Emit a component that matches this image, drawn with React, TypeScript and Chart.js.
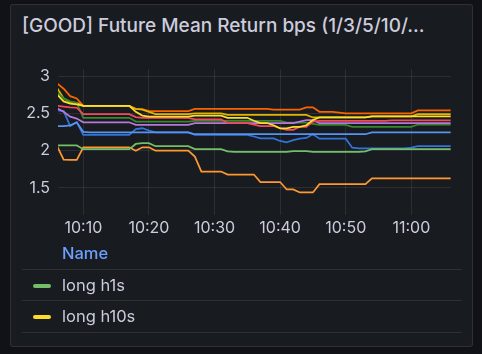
import React, { useEffect, useRef } from "react";
import { Chart, registerables } from "chart.js";
Chart.register(...registerables);

// minutes after 10:00
const minutes = [6, 7, 8, 9, 10, 11, 12, 13, 14, 15, 16, 17, 18, 19, 20, 21, 22, 23, 24, 25, 26, 27, 28, 29, 30, 31, 32, 33, 34, 35, 36, 37, 38, 39, 40, 41, 42, 43, 44, 45, 46, 47, 48, 49, 50, 51, 52, 53, 54, 55, 56, 57, 58, 59, 60, 61, 62, 63, 64, 65, 66];

const xTickValues = [10, 20, 30, 40, 50, 60];
const xTickLabels = ["10:10", "10:20", "10:30", "10:40", "10:50", "11:00"];
const yTickValues = [1.5, 2, 2.5, 3];

const longH1s = [2.07, 2.07, 2.07, 2.07, 2.02, 2.02, 2.02, 2.02, 2.02, 2.02, 2.02, 2.02, 2.09, 2.10, 2.10, 2.06, 2.06, 2.06, 2.06, 2.06, 2.06, 2.02, 2.02, 2.02, 2.02, 2.02, 1.99, 1.985, 1.985, 1.985, 1.985, 1.985, 1.985, 1.985, 1.985, 1.985, 1.995, 1.995, 1.995, 1.985, 1.985, 1.985, 1.985, 1.985, 1.985, 1.985, 1.985, 1.99, 2.02, 2.02, 2.02, 2.02, 2.02, 2.02, 2.02, 2.02, 2.02, 2.02, 2.02, 2.02, 2.02];
const longH10s = [2.75, 2.66, 2.63, 2.62, 2.60, 2.60, 2.60, 2.60, 2.60, 2.60, 2.60, 2.60, 2.52, 2.47, 2.455, 2.455, 2.455, 2.455, 2.455, 2.455, 2.455, 2.47, 2.47, 2.47, 2.47, 2.47, 2.44, 2.44, 2.44, 2.44, 2.40, 2.37, 2.37, 2.34, 2.30, 2.30, 2.32, 2.32, 2.34, 2.41, 2.445, 2.445, 2.445, 2.445, 2.445, 2.445, 2.445, 2.445, 2.46, 2.46, 2.46, 2.46, 2.46, 2.46, 2.46, 2.46, 2.46, 2.46, 2.46, 2.46, 2.46];
const longH3s = [2.33, 2.33, 2.34, 2.38, 2.25, 2.245, 2.245, 2.245, 2.245, 2.245, 2.245, 2.245, 2.245, 2.245, 2.245, 2.245, 2.245, 2.245, 2.245, 2.245, 2.245, 2.22, 2.22, 2.22, 2.22, 2.22, 2.22, 2.22, 2.22, 2.22, 2.22, 2.22, 2.22, 2.22, 2.22, 2.22, 2.22, 2.22, 2.22, 2.22, 2.22, 2.22, 2.22, 2.22, 2.22, 2.22, 2.22, 2.22, 2.245, 2.245, 2.245, 2.245, 2.245, 2.245, 2.245, 2.245, 2.245, 2.245, 2.245, 2.245, 2.245];
const longH5s = [2.06, 1.88, 1.875, 1.875, 2.045, 2.045, 2.045, 2.045, 2.045, 2.045, 2.045, 2.045, 2.00, 2.045, 2.045, 2.00, 2.00, 2.00, 2.00, 2.00, 2.00, 1.92, 1.72, 1.72, 1.72, 1.72, 1.68, 1.68, 1.68, 1.68, 1.68, 1.58, 1.58, 1.58, 1.58, 1.48, 1.48, 1.44, 1.44, 1.44, 1.55, 1.55, 1.55, 1.55, 1.55, 1.55, 1.55, 1.55, 1.63, 1.63, 1.63, 1.63, 1.63, 1.63, 1.63, 1.63, 1.63, 1.63, 1.63, 1.63, 1.63];
const longH30s = [2.60, 2.59, 2.58, 2.575, 2.49, 2.49, 2.49, 2.49, 2.49, 2.49, 2.49, 2.49, 2.45, 2.44, 2.44, 2.44, 2.44, 2.44, 2.44, 2.44, 2.44, 2.42, 2.42, 2.42, 2.42, 2.42, 2.37, 2.37, 2.37, 2.37, 2.35, 2.33, 2.33, 2.33, 2.30, 2.28, 2.28, 2.32, 2.32, 2.39, 2.40, 2.40, 2.40, 2.40, 2.40, 2.40, 2.40, 2.40, 2.40, 2.40, 2.40, 2.405, 2.405, 2.405, 2.405, 2.405, 2.405, 2.405, 2.405, 2.405, 2.405];
const longH60s = [2.57, 2.52, 2.455, 2.43, 2.38, 2.38, 2.38, 2.38, 2.38, 2.38, 2.38, 2.38, 2.345, 2.345, 2.345, 2.345, 2.345, 2.345, 2.345, 2.345, 2.345, 2.37, 2.37, 2.37, 2.37, 2.37, 2.37, 2.37, 2.37, 2.37, 2.37, 2.37, 2.37, 2.37, 2.37, 2.37, 2.37, 2.39, 2.41, 2.41, 2.37, 2.37, 2.37, 2.37, 2.37, 2.37, 2.37, 2.37, 2.37, 2.37, 2.37, 2.37, 2.37, 2.37, 2.37, 2.37, 2.37, 2.37, 2.37, 2.37, 2.37];
const shortH1s = [2.78, 2.70, 2.66, 2.64, 2.44, 2.44, 2.44, 2.44, 2.44, 2.44, 2.44, 2.44, 2.39, 2.39, 2.39, 2.39, 2.39, 2.39, 2.39, 2.39, 2.39, 2.40, 2.40, 2.40, 2.40, 2.40, 2.40, 2.40, 2.40, 2.40, 2.40, 2.40, 2.40, 2.40, 2.40, 2.375, 2.375, 2.375, 2.375, 2.36, 2.345, 2.345, 2.345, 2.345, 2.345, 2.32, 2.32, 2.32, 2.32, 2.32, 2.32, 2.32, 2.32, 2.32, 2.32, 2.35, 2.35, 2.35, 2.35, 2.35, 2.35];
const shortH10s = [2.84, 2.70, 2.65, 2.64, 2.60, 2.60, 2.60, 2.60, 2.60, 2.60, 2.60, 2.60, 2.56, 2.55, 2.52, 2.49, 2.49, 2.49, 2.49, 2.49, 2.49, 2.50, 2.50, 2.50, 2.50, 2.50, 2.48, 2.48, 2.48, 2.48, 2.48, 2.48, 2.48, 2.48, 2.48, 2.48, 2.48, 2.48, 2.48, 2.445, 2.445, 2.445, 2.445, 2.445, 2.445, 2.445, 2.445, 2.445, 2.46, 2.46, 2.46, 2.46, 2.46, 2.46, 2.46, 2.49, 2.49, 2.49, 2.49, 2.49, 2.49];
const shortH3s = [2.54, 2.53, 2.33, 2.38, 2.21, 2.21, 2.21, 2.21, 2.21, 2.21, 2.21, 2.21, 2.29, 2.30, 2.27, 2.245, 2.245, 2.245, 2.245, 2.245, 2.245, 2.21, 2.21, 2.21, 2.21, 2.21, 2.21, 2.21, 2.21, 2.21, 2.19, 2.165, 2.165, 2.165, 2.13, 2.11, 2.14, 2.16, 2.17, 2.22, 2.16, 2.16, 2.16, 2.16, 2.16, 2.04, 2.03, 2.03, 2.03, 2.03, 2.03, 2.03, 2.03, 2.03, 2.04, 2.06, 2.06, 2.06, 2.06, 2.06, 2.06];
const shortH5s = [2.90, 2.83, 2.73, 2.70, 2.60, 2.60, 2.60, 2.60, 2.60, 2.60, 2.60, 2.60, 2.555, 2.555, 2.53, 2.53, 2.53, 2.53, 2.53, 2.53, 2.53, 2.56, 2.56, 2.56, 2.56, 2.56, 2.56, 2.56, 2.56, 2.56, 2.56, 2.56, 2.56, 2.55, 2.55, 2.55, 2.55, 2.55, 2.58, 2.58, 2.52, 2.52, 2.52, 2.51, 2.50, 2.50, 2.50, 2.50, 2.50, 2.50, 2.50, 2.50, 2.50, 2.50, 2.50, 2.54, 2.54, 2.54, 2.54, 2.54, 2.54];

const seriesNames = ["long h1s", "long h10s", "long h3s", "long h5s", "long h30s", "long h60s", "short h1s", "short h10s", "short h3s", "short h5s"];
const seriesValues = [longH1s, longH10s, longH3s, longH5s, longH30s, longH60s, shortH1s, shortH10s, shortH3s, shortH5s];
const seriesColors = ["#73BF69", "#FADE2A", "#5794F2", "#FF9830", "#F2495C", "#B877D9", "#37872D", "#E0B400", "#3274D9", "#FA6400"];
const legendShown = [0, 1];

const TEXT = "#ccccdc";
const GRID = "rgba(240,250,255,0.09)";

export default function App() {
  const ref = useRef<HTMLCanvasElement>(null);
  useEffect(() => {
    document.body.style.margin = "0";
    document.body.style.background = "#111217";
    const ctx = ref.current!;
    const chart = new Chart(ctx, {
      type: "line",
      data: {
        datasets: seriesNames.map((n, i) => ({
          label: n,
          data: minutes.map((m, j) => ({ x: m, y: seriesValues[i][j] })),
          borderColor: seriesColors[i],
          backgroundColor: seriesColors[i],
          borderWidth: 1.75,
          pointRadius: 0,
          tension: 0,
        })),
      },
      options: {
        animation: false,
        responsive: false,
        layout: { padding: { left: 10, right: 31, top: 69, bottom: 0 } },
        plugins: { legend: { display: false }, tooltip: { enabled: false } },
        scales: {
          x: {
            type: "linear",
            min: 6.14,
            max: 66.05,
            afterBuildTicks: (s: any) => {
              s.ticks = xTickValues.map((v) => ({ value: v }));
            },
            afterFit: (s: any) => {
              s.height = 30;
            },
            ticks: {
              autoSkip: false,
              maxRotation: 0,
              padding: 4,
              color: TEXT,
              font: { family: "Inter", size: 16 },
              callback: (v: any) => xTickLabels[xTickValues.indexOf(Number(v))] ?? "",
            },
            grid: { color: GRID, drawTicks: false },
            border: { display: false },
          },
          y: {
            min: 1.138,
            max: 3.094,
            afterBuildTicks: (s: any) => {
              s.ticks = yTickValues.map((v) => ({ value: v }));
            },
            afterFit: (s: any) => {
              s.width = 48;
            },
            ticks: {
              padding: 8,
              color: TEXT,
              font: { family: "Inter", size: 16 },
              callback: (v: any) => String(v),
            },
            grid: { color: GRID, drawTicks: false },
            border: { display: false },
          },
        },
      },
    });
    return () => chart.destroy();
  }, []);

  return (
    <div style={{ position: "relative", width: 482, height: 354, background: "#111217", fontFamily: "Inter", overflow: "hidden" }}>
      <div
        style={{
          position: "absolute",
          left: 10,
          top: 4,
          width: 461,
          height: 341,
          background: "#181b1f",
          border: "1px solid rgba(204,204,220,0.12)",
          borderRadius: 3,
        }}
      />
      <div style={{ position: "absolute", left: 22, top: 13, height: 26, lineHeight: "26px", fontSize: 19, fontWeight: 500, color: TEXT, whiteSpace: "nowrap" }}>
        [GOOD] Future Mean Return bps (1/3/5/10/...
      </div>
      <canvas ref={ref} width={482} height={245} style={{ position: "absolute", left: 0, top: 0, width: 482, height: 245 }} />
      <div style={{ position: "absolute", left: 62, top: 243, height: 20, lineHeight: "20px", fontSize: 16.5, fontWeight: 500, color: "#6E9FFF" }}>Name</div>
      {[269, 300, 332].map((t) => (
        <div key={t} style={{ position: "absolute", left: 22, top: t, width: 440, height: 1, background: "rgba(204,204,220,0.12)" }} />
      ))}
      {legendShown.map((idx, r) => (
        <React.Fragment key={idx}>
          <div style={{ position: "absolute", left: 33, top: 284 + r * 31, width: 18, height: 4, borderRadius: 2, background: seriesColors[idx] }} />
          <div style={{ position: "absolute", left: 62, top: 275 + r * 31, height: 20, lineHeight: "20px", fontSize: 16.5, color: TEXT, whiteSpace: "nowrap" }}>
            {seriesNames[idx]}
          </div>
        </React.Fragment>
      ))}
    </div>
  );
}
